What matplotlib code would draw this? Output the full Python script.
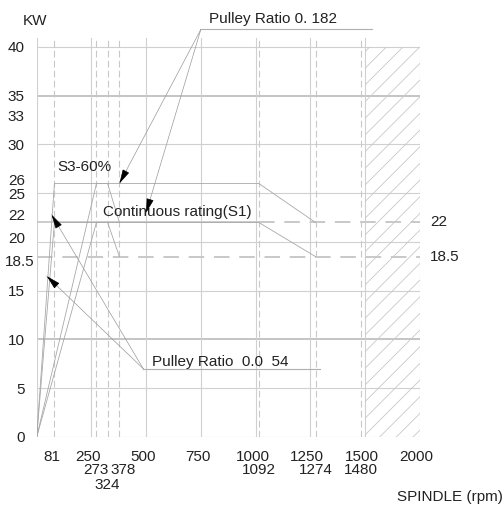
import numpy as np
import matplotlib.pyplot as plt
from matplotlib.transforms import blended_transform_factory, ScaledTranslation

plt.rcParams['font.family'] = ['Liberation Sans', 'DejaVu Sans']
plt.rcParams['hatch.linewidth'] = 0.6

# tick values
y_ticks = [0, 5, 10, 15, 18.5, 20, 22, 25, 26, 30, 33, 35, 40]
x_row1 = [81, 250, 500, 750, 1000, 1250, 1500, 2000]
x_row2 = [273, 378, 1092, 1274, 1480]
x_row3 = [324]

# grid values
grid_rpm = [0, 250, 500, 750, 1000, 1250, 1500, 2000]
grid_kw = [0, 5, 10, 15, 20, 25, 30, 35, 40]
mark_rpm = [81, 273, 324, 378, 1092, 1274, 1480]

# power curves: (rpm, kW)
s3_low_rpm = [0, 81, 324, 378]
s3_low_kw = [0, 26, 26, 22]
s1_low_rpm = [0, 81, 324, 378]
s1_low_kw = [0, 22, 22, 18.5]
s3_high_rpm = [0, 273, 1092, 1274]
s3_high_kw = [0, 26, 26, 22]
s1_high_rpm = [0, 273, 1092, 1274]
s1_high_kw = [0, 22, 22, 18.5]

s1_rated = 22
s1_reduced = 18.5
forbidden_rpm = [1500, 2000]

# callouts
hi_apex = (750, 41.8)
hi_targets = [(378, 26), (500, 23)]
hi_line_end = 1563
lo_apex = (487, 7.0)
lo_targets = [(68, 22.8), (46, 16.5)]
lo_line_end = 1294

# axis drawn piecewise: compressed above 1500, 1092 squeezed near 1000
knot_rpm = [0, 1000, 1092, 1250, 1500, 2000]
knot_pos = [0, 1000, 1015, 1250, 1500, 1750]


def fwd(x):
    return np.interp(x, knot_rpm, knot_pos, left=-1e9, right=1e9)


def inv(p):
    return np.interp(p, knot_pos, knot_rpm, left=-1e9, right=1e9)


fig = plt.figure(figsize=(5.04, 5.09), dpi=100)
ax = fig.add_axes([36.7 / 504, 72 / 509, 383 / 504, 414.4 / 509])
ax.set_xscale('function', functions=(fwd, inv))
ax.set_xlim(0, 2000)
ax.set_ylim(0, 42.5)
for s in ax.spines.values():
    s.set_visible(False)

grid_c = '#d0d0d0'
# horizontal grid
for k in grid_kw:
    lw = 1.4 if k in (10, 35) else 0.8
    ax.plot([0, 2000], [k, k], color='#c4c4c4' if lw > 1 else grid_c, lw=lw, zorder=1)
# vertical grid
for r in grid_rpm:
    ax.plot([r, r], [0, 40.9], color=grid_c, lw=0.8, zorder=1)
for r in mark_rpm:
    ax.plot([r, r], [0, 40.9], color='#c8c8c8', lw=0.8, ls=(0, (6, 3)), zorder=1)

# hatched area above max speed
ax.fill_between(forbidden_rpm, 0, 40, facecolor='none', edgecolor='#c8c8c8',
                hatch='//', linewidth=0, zorder=1)

# S1 / reduced reference lines
ax.plot([0, 1092], [s1_rated, s1_rated], color='#c4c4c4', lw=1.2, zorder=2)
ax.plot([1092, 2000], [s1_rated, s1_rated], color='#c8c8c8', lw=1.4,
        ls=(0, (8, 5)), zorder=2)
ax.plot([0, 2000], [s1_reduced, s1_reduced], color='#c8c8c8', lw=1.4,
        ls=(0, (8, 5)), zorder=2)

# power curves
curve_c = '#a8a8a8'
for xs, ys in [(s3_low_rpm, s3_low_kw), (s1_low_rpm, s1_low_kw),
               (s3_high_rpm, s3_high_kw), (s1_high_rpm, s1_high_kw)]:
    ax.plot(xs, ys, color=curve_c, lw=0.6, zorder=3)


def callout(apex, targets, line_end):
    ax.plot([apex[0], line_end], [apex[1], apex[1]], color='#b0b0b0', lw=0.8,
            clip_on=False, zorder=3)
    for t in targets:
        ax.plot([apex[0], t[0]], [apex[1], t[1]], color='#9a9a9a', lw=0.5,
                clip_on=False, zorder=3)
        p0 = ax.transData.transform(apex)
        p1 = ax.transData.transform(t)
        d = (p0 - p1) / np.hypot(*(p0 - p1))
        ax.annotate('', xy=t, xytext=(d[0] * 9, d[1] * 9), textcoords='offset points',
                    arrowprops=dict(arrowstyle='-|>,head_length=1.1,head_width=0.28',
                                    color='black', lw=0.5, shrinkA=0, shrinkB=0,
                                    mutation_scale=8), zorder=4)


callout(hi_apex, hi_targets, hi_line_end)
callout(lo_apex, lo_targets, lo_line_end)

txt_c = '#222222'
fs = 11
ax.text(787, 42.9, 'Pulley Ratio 0. 182', fontsize=fs, color=txt_c, va='center')
ax.text(525, 7.7, 'Pulley Ratio  0.0  54', fontsize=fs, color=txt_c, va='center')
ax.text(96, 27.7, 'S3-60%', fontsize=fs, color=txt_c, va='center')
ax.text(304, 23.1, 'Continuous rating(S1)', fontsize=fs, color=txt_c, va='center')

# y ticks
ax.set_yticks(y_ticks, [f'{v:g}' for v in y_ticks])
ax.set_xticks([])
ax.tick_params(axis='y', length=0, pad=8.5, labelsize=11, labelcolor=txt_c)
nudge = {26: (0, 3.5), 22: (0, 7.5), 20: (0, 4), 18.5: (10, -4)}
for v, lab in zip(y_ticks, ax.get_yticklabels()):
    if v in nudge:
        dx, dy = nudge[v]
        lab.set_transform(lab.get_transform() +
                          ScaledTranslation(dx / 100, dy / 100, fig.dpi_scale_trans))

# right side labels
tr = blended_transform_factory(ax.transAxes, ax.transData)
ax.text(1.027, s1_rated, '22', transform=tr, fontsize=11, color=txt_c, va='center')
ax.text(1.027, s1_reduced, '18.5', transform=tr, fontsize=11, color=txt_c, va='center')

# x labels in three rows
trx = blended_transform_factory(ax.transData, ax.transAxes)
shift_px = {273: -1, 378: 4}
for row, vals in enumerate([x_row1, x_row2, x_row3]):
    yy = [-0.0475, -0.0796, -0.1158][row]
    for v in vals:
        dx = shift_px.get(v, -3 if row == 0 else 0)
        t = trx + ScaledTranslation(dx / 100, 0, fig.dpi_scale_trans)
        ax.text(v, yy, str(v), transform=t, fontsize=11, color=txt_c,
                ha='center', va='center')

fig.text(23 / 504, 1 - 21 / 509, 'KW', fontsize=fs, color=txt_c, va='center')
fig.text(397 / 504, 1 - 497 / 509, 'SPINDLE (rpm)', fontsize=fs, color=txt_c, va='center')

fig.savefig('out.png', dpi=100)
